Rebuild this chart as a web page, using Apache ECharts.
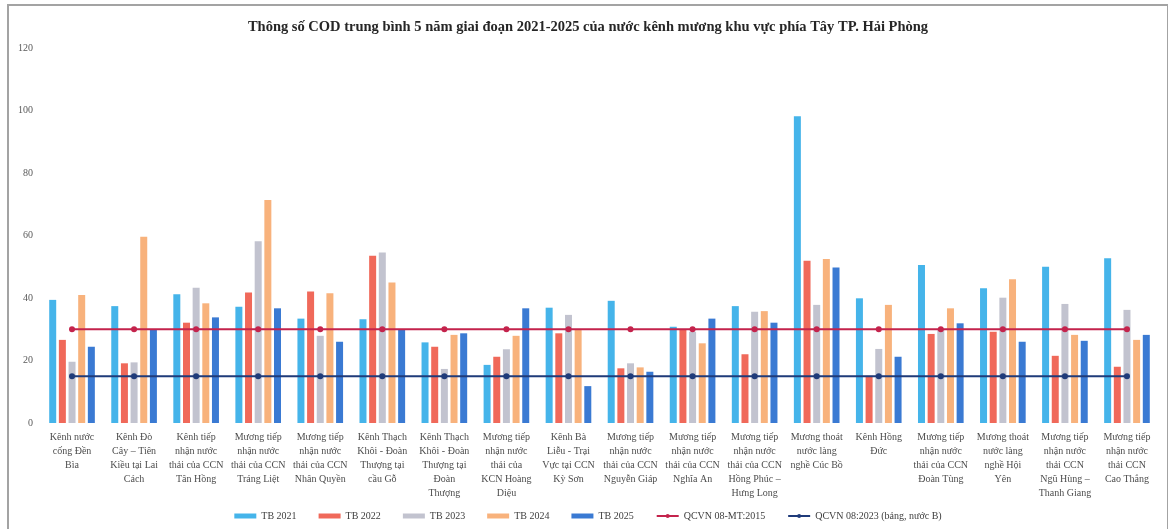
<!DOCTYPE html>
<html>
<head>
<meta charset="utf-8">
<title>COD</title>
<script src="https://cdn.jsdelivr.net/npm/echarts/dist/echarts.min.js"></script>
<style>
  body { margin: 0; background: #fff; }
  #frame {
    position: absolute; left: 7px; top: 4px;
    border: 2px solid #a3a3a3; border-bottom: none;
  }
  #main { width: 1158px; height: 525px; }
</style>
</head>
<body>
<div id="frame"><div id="main"></div></div>
<script>
var categories = [
  'Kênh nước\ncống Đền\nBìa',
  'Kênh Đò\nCây – Tiên\nKiều tại Lai\nCách',
  'Kênh tiếp\nnhận nước\nthải của CCN\nTân Hồng',
  'Mương tiếp\nnhận nước\nthải của CCN\nTráng Liệt',
  'Mương tiếp\nnhận nước\nthải của CCN\nNhân Quyền',
  'Kênh Thạch\nKhôi - Đoàn\nThượng tại\ncầu Gỗ',
  'Kênh Thạch\nKhôi - Đoàn\nThượng tại\nĐoàn\nThượng',
  'Mương tiếp\nnhận nước\nthải của\nKCN Hoàng\nDiệu',
  'Kênh Bà\nLiễu - Trại\nVực tại CCN\nKỳ Sơn',
  'Mương tiếp\nnhận nước\nthải của CCN\nNguyễn Giáp',
  'Mương tiếp\nnhận nước\nthải của CCN\nNghĩa An',
  'Mương tiếp\nnhận nước\nthải của CCN\nHồng Phúc –\nHưng Long',
  'Mương thoát\nnước làng\nnghề Cúc Bồ',
  'Kênh Hồng\nĐức',
  'Mương tiếp\nnhận nước\nthải của CCN\nĐoàn Tùng',
  'Mương thoát\nnước làng\nnghề Hội\nYên',
  'Mương tiếp\nnhận nước\nthải CCN\nNgũ Hùng –\nThanh Giang',
  'Mương tiếp\nnhận nước\nthải CCN\nCao Thắng'
]

var tb2021 = [39.4, 37.4, 41.2, 37.2, 33.4, 33.2, 25.8, 18.6, 36.9, 39.1, 30.8, 37.4, 98.2, 39.9, 50.6, 43.1, 50.0, 52.7]
var tb2022 = [26.6, 19.1, 32.1, 41.8, 42.1, 53.5, 24.4, 21.2, 28.7, 17.5, 30.0, 22.0, 51.9, 15.1, 28.5, 29.2, 21.5, 18.0]
var tb2023 = [19.6, 19.4, 43.3, 58.2, 27.9, 54.6, 17.3, 23.6, 34.6, 19.1, 29.2, 35.6, 37.8, 23.7, 30.0, 40.1, 38.1, 36.2]
var tb2024 = [41.0, 59.6, 38.3, 71.4, 41.5, 45.0, 28.2, 27.9, 29.8, 17.8, 25.5, 35.8, 52.5, 37.8, 36.7, 46.0, 28.2, 26.6]
var tb2025 = [24.4, 29.8, 33.8, 36.7, 26.0, 30.0, 28.7, 36.7, 11.8, 16.4, 33.4, 32.1, 49.8, 21.2, 31.9, 26.0, 26.3, 28.2]

// gioi han quy chuan
var qcvn2015 = [30, 30, 30, 30, 30, 30, 30, 30, 30, 30, 30, 30, 30, 30, 30, 30, 30, 30]
var qcvn2023 = [15, 15, 15, 15, 15, 15, 15, 15, 15, 15, 15, 15, 15, 15, 15, 15, 15, 15]

var yTicks = [0, 20, 40, 60, 80, 100, 120]

var serif = '"Liberation Serif", "DejaVu Serif", serif'

function barSeries(name, data, color) {
  return {
    name: name,
    type: 'bar',
    data: data,
    barWidth: 7,
    barGap: '38%',
    itemStyle: { color: color }
  }
}

function lineSeries(name, data, color) {
  return {
    name: name,
    type: 'line',
    data: data,
    symbol: 'circle',
    symbolSize: 6,
    z: 5,
    lineStyle: { color: color, width: 2 },
    itemStyle: { color: color }
  }
}

var myChart = echarts.init(document.getElementById('main'))

var option = {
  animation: false,
  title: {
    text: 'Thông số COD trung bình 5 năm giai đoạn 2021-2025 của nước kênh mương khu vực phía Tây TP. Hải Phòng',
    left: 'center',
    top: 14,
    padding: 0,
    textStyle: { fontFamily: serif, fontSize: 14.5, fontWeight: 'bold', color: '#262626' }
  },
  legend: {
    bottom: 5,
    left: 'center',
    itemWidth: 22,
    itemHeight: 5,
    itemGap: 22,
    textStyle: { fontFamily: serif, fontSize: 10, color: '#404040' },
    data: [
      { name: 'TB 2021', icon: 'rect' },
      { name: 'TB 2022', icon: 'rect' },
      { name: 'TB 2023', icon: 'rect' },
      { name: 'TB 2024', icon: 'rect' },
      { name: 'TB 2025', icon: 'rect' },
      'QCVN 08-MT:2015',
      'QCVN 08:2023 (bảng, nước B)'
    ]
  },
  grid: { left: 32, right: 9, top: 42, bottom: 108 },
  xAxis: {
    type: 'category',
    data: categories,
    axisLine: { show: false },
    axisTick: { show: false },
    axisLabel: {
      interval: 0,
      margin: 7,
      fontFamily: serif,
      fontSize: 10,
      lineHeight: 14,
      color: '#4d4d4d'
    }
  },
  yAxis: {
    type: 'value',
    min: yTicks[0],
    max: yTicks[yTicks.length - 1],
    interval: yTicks[1] - yTicks[0],
    splitLine: { show: false },
    axisLine: { show: false },
    axisTick: { show: false },
    axisLabel: { margin: 8, fontFamily: serif, fontSize: 10, color: '#595959' }
  },
  series: [
    barSeries('TB 2021', tb2021, '#45b4ea'),
    barSeries('TB 2022', tb2022, '#f0695a'),
    barSeries('TB 2023', tb2023, '#c2c3cf'),
    barSeries('TB 2024', tb2024, '#f8b27c'),
    barSeries('TB 2025', tb2025, '#3a7ad3'),
    lineSeries('QCVN 08-MT:2015', qcvn2015, '#c4234c'),
    lineSeries('QCVN 08:2023 (bảng, nước B)', qcvn2023, '#1f3b7a')
  ]
}

myChart.setOption(option)
</script>
</body>
</html>
